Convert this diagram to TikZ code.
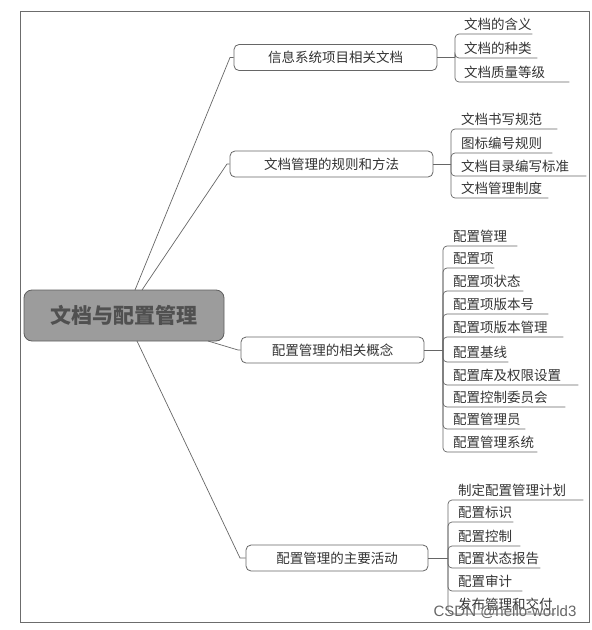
\documentclass[tikz,border=0pt]{standalone}
\usepackage{fontspec}
\setmainfont{Noto Sans CJK SC}
\newfontfamily\wmfont{Liberation Sans}
\definecolor{linec}{HTML}{666666}
\definecolor{txtc}{HTML}{333333}
\definecolor{rootfill}{HTML}{9C9C9C}
\definecolor{rootline}{HTML}{5E5E5E}
\definecolor{roottext}{HTML}{505050}
\begin{document}
\begin{tikzpicture}[x=1pt,y=-1pt,
  conn/.style={draw=linec,line width=0.7pt},
  branchbox/.style={draw=linec,line width=0.8pt,fill=white,rounded corners=5pt,
    minimum height=26pt,inner sep=0pt,text=txtc,font=\fontsize{13.5pt}{16pt}\selectfont},
  rootbox/.style={draw=rootline,line width=0.8pt,fill=rootfill,rounded corners=8pt,
    minimum width=200pt,minimum height=51pt,inner sep=0pt,text=roottext,
    font=\fontsize{21pt}{24pt}\selectfont\bfseries},
  leaf/.style={anchor=south west,inner xsep=0pt,inner ysep=2pt,text height=11pt,text depth=2pt,
    align=left,text=txtc,font=\fontsize{13.5pt}{16pt}\selectfont},
  uline/.style={draw=linec,line width=0.7pt,rounded corners=4pt}]
\useasboundingbox (0,0) rectangle (592,630);
\draw[draw=gray!85!black,line width=0.8pt] (20,11) rectangle (589,622);

% root
\node[rootbox] (root) at (124,315.5) {文档与配置管理};

% branches
\node[branchbox,minimum width=203pt] (b1) at (335.5,57.5) {信息系统项目相关文档};
\node[branchbox,minimum width=203pt] (b2) at (331.5,164) {文档管理的规则和方法};
\node[branchbox,minimum width=183pt] (b3) at (332.5,350) {配置管理的相关概念};
\node[branchbox,minimum width=182pt] (b4) at (337,558) {配置管理的主要活动};

\coordinate (r1) at (135,290); \coordinate (e1) at (230,57.5);
\coordinate (r2) at (142,290); \coordinate (e2) at (227,164);
\coordinate (r3) at (208,341); \coordinate (e3) at (238,350);
\coordinate (r4) at (137,341); \coordinate (e4) at (240,558);
\draw[conn] (r1) -- (e1) -- (b1.west);
\draw[conn] (r2) -- (e2) -- (b2.west);
\draw[conn] (r3) -- (e3) -- (b3.west);
\draw[conn] (r4) -- (e4) -- (b4.west);

% group junctions
\coordinate (g1) at (455,57.5);
\coordinate (g2) at (451,164);
\coordinate (g3) at (443,350);
\coordinate (g4) at (448,558);
\draw[conn] (b1.east) -- (g1);
\draw[conn] (b2.east) -- (g2);
\draw[conn] (b3.east) -- (g3);
\draw[conn] (b4.east) -- (g4);

% group 1
\node[leaf,text width=68pt] (c11) at (464,34) {文档的含义};
\node[leaf,text width=73pt] (c12) at (464,58) {文档的种类};
\node[leaf,text width=105pt] (c13) at (464,82) {文档质量等级};
\foreach \c in {c11,c12,c13} \draw[uline] (g1) |- (\c.south west) -- (\c.south east);

% group 2
\node[leaf,text width=96pt] (c21) at (461,129) {文档书写规范};
\node[leaf,text width=91pt] (c22) at (461,153) {图标编号规则};
\node[leaf,text width=125pt] (c23) at (461,176) {文档目录编写标准};
\node[leaf,text width=87pt] (c24) at (461,198) {文档管理制度};
\foreach \c in {c21,c22,c23,c24} \draw[uline] (g2) |- (\c.south west) -- (\c.south east);

% group 3
\node[leaf,text width=64pt] (c31) at (453,246) {配置管理};
\node[leaf,text width=41pt] (c32) at (453,268) {配置项};
\node[leaf,text width=70pt] (c33) at (453,291) {配置项状态};
\node[leaf,text width=95pt] (c34) at (453,314) {配置项版本号};
\node[leaf,text width=110pt] (c35) at (453,337) {配置项版本管理};
\node[leaf,text width=55pt] (c36) at (453,362) {配置基线};
\node[leaf,text width=125pt] (c37) at (453,385) {配置库及权限设置};
\node[leaf,text width=112pt] (c38) at (453,407) {配置控制委员会};
\node[leaf,text width=72pt] (c39) at (453,429) {配置管理员};
\node[leaf,text width=84pt] (c310) at (453,452) {配置管理系统};
\foreach \c in {c31,c32,c33,c34,c35,c36,c37,c38,c39,c310} \draw[uline] (g3) |- (\c.south west) -- (\c.south east);

% group 4
\node[leaf,text width=125pt] (c41) at (458,500) {制定配置管理计划};
\node[leaf,text width=55pt] (c42) at (458,522) {配置标识};
\node[leaf,text width=62pt] (c43) at (458,546) {配置控制};
\node[leaf,text width=82pt] (c44) at (458,568) {配置状态报告};
\node[leaf,text width=64pt] (c45) at (458,591) {配置审计};
\node[leaf,text width=97pt] (c46) at (458,614) {发布管理和交付};
\foreach \c in {c41,c42,c43,c44,c45,c46} \draw[uline] (g4) |- (\c.south west) -- (\c.south east);

% watermark
\node[text=gray!80!black,font=\wmfont\fontsize{15pt}{17pt}\selectfont,inner sep=0pt] (wm) at (505,612) {CSDN @hello-world3};
\end{tikzpicture}
\end{document}
